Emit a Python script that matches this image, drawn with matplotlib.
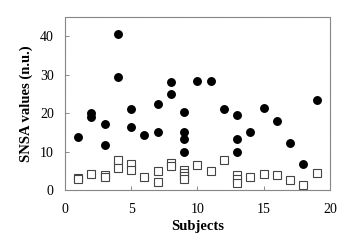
import matplotlib
matplotlib.use("Agg")
import matplotlib.pyplot as plt

# Filled circles (SNSA, one group)
circ_x = [1, 2, 2, 3, 3, 4, 4, 5, 5, 6, 7, 7, 8, 8, 9, 9, 9, 9, 10, 11, 12, 13, 13, 13, 14, 15, 16, 17, 18, 19]
circ_y = [13.8, 20.0, 19.0, 17.2, 11.6, 40.6, 29.4, 21.1, 16.3, 14.4, 22.5, 15.0, 28.1, 25.0,
          20.4, 15.1, 13.3, 10.0, 28.3, 28.3, 21.2, 19.5, 13.2, 9.8, 15.2, 21.4, 17.9, 12.2, 6.7, 23.4]

# Open squares (other group)
sq_x = [1, 1, 2, 3, 3, 4, 4, 5, 5, 6, 7, 7, 8, 8, 9, 9, 9, 9, 10, 11, 12, 13, 13, 13, 14, 15, 16, 17, 18, 19]
sq_y = [3.2, 2.8, 4.3, 3.8, 3.3, 7.8, 5.7, 6.8, 5.2, 3.4, 4.9, 2.2, 7.0, 6.3,
        5.3, 4.5, 3.6, 3.0, 6.4, 5.0, 7.8, 4.0, 3.0, 1.9, 3.3, 4.3, 3.8, 2.7, 1.4, 4.5]

xticks = [0, 5, 10, 15, 20]
yticks = [0, 10, 20, 30, 40]

plt.rcParams['font.family'] = ['Liberation Serif', 'DejaVu Serif']

fig = plt.figure(figsize=(3.59, 2.40), dpi=100)
ax = fig.add_axes([0.181, 0.208, 0.738, 0.721])

ax.plot(sq_x, sq_y, linestyle='none', marker='s', markersize=5.2,
        markerfacecolor='white', markeredgecolor='#444444', markeredgewidth=0.8)
ax.plot(circ_x, circ_y, linestyle='none', marker='o', markersize=5.4,
        markerfacecolor='black', markeredgecolor='black')

ax.set_xlim(0, 20)
ax.set_ylim(0, 45)
ax.set_xticks(xticks)
ax.set_yticks(yticks)
ax.tick_params(direction='in', length=3, width=0.6, color='#777777', labelsize=10)
ax.tick_params(axis='x', pad=9)
ax.tick_params(axis='y', pad=8)
for s in ax.spines.values():
    s.set_color('#888888')
    s.set_linewidth(0.8)
    s.set_linestyle((0, (1, 0.5)))

ax.set_xlabel('Subjects', fontsize=10.5, fontweight='bold', labelpad=3)
ax.set_ylabel('SNSA values (n.u.)', fontsize=10.5, fontweight='bold', labelpad=5)

fig.savefig('out.png', dpi=100)
